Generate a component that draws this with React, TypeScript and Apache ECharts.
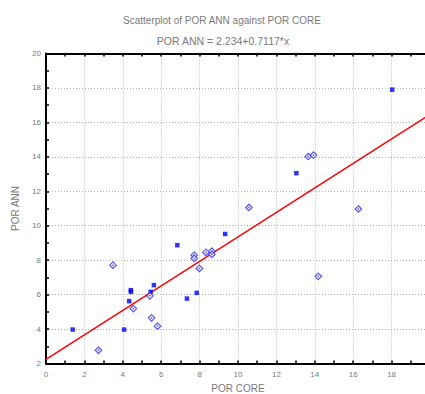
import React, { useEffect, useRef } from "react";
import * as echarts from "echarts";

const titleText = "Scatterplot of POR ANN against POR CORE";
const equationText = "POR ANN = 2.234+0.7117*x";
const xName = "POR CORE";
const yName = "POR ANN";

// filled-square observations
const filledX = [1.39, 4.07, 4.42, 4.42, 4.33, 5.62, 5.45, 6.84, 7.34, 7.85, 9.33, 13.04, 18.03];
const filledY = [3.97, 3.97, 6.26, 6.16, 5.62, 6.55, 6.16, 8.87, 5.77, 6.1, 9.52, 13.05, 17.9];

// hollow-diamond observations
const hollowX = [2.73, 3.49, 4.55, 5.41, 5.5, 5.81, 7.72, 7.72, 7.99, 8.33, 8.64, 8.64, 10.57, 13.66, 13.93, 14.18, 16.27];
const hollowY = [2.77, 7.71, 5.19, 5.93, 4.65, 4.17, 8.29, 8.1, 7.52, 8.45, 8.52, 8.33, 11.06, 14.02, 14.1, 7.06, 10.97];

// fitted line endpoints (POR ANN = 2.234 + 0.7117 * x)
const fitX = [0, 20];
const fitY = [2.234, 16.468];

const TEXT_COLOR = "#7a7a7a";
const FONT = "Liberation Sans";

export default function App() {
  const ref = useRef<HTMLDivElement>(null);
  useEffect(() => {
    if (!ref.current) return;
    const chart = echarts.init(ref.current, null, { renderer: "svg" });
    const filled = filledX.map((x, i) => [x, filledY[i]]);
    const hollow = hollowX.map((x, i) => [x, hollowY[i]]);
    const fit = fitX.map((x, i) => [x, fitY[i]]);
    const axisCommon = {
      axisLine: { show: true, onZero: false, lineStyle: { color: "#000", width: 2 } },
      axisTick: { show: true, inside: true, length: 3, lineStyle: { color: "#000", width: 1.5 } },
      minorTick: { show: true, splitNumber: 2, length: 3, lineStyle: { color: "#000", width: 1.5 } },
      splitLine: { show: true, lineStyle: { color: "#b4b4b4", width: 1, type: [1, 2] } },
    };
    chart.setOption({
      animation: false,
      backgroundColor: "#fff",
      graphic: [
        {
          type: "text",
          x: 222,
          y: 20,
          style: { text: titleText, fill: TEXT_COLOR, font: `10px ${FONT}`, textAlign: "center", textVerticalAlign: "middle" },
        },
        {
          type: "text",
          x: 223,
          y: 41,
          style: { text: equationText, fill: TEXT_COLOR, font: `10.5px ${FONT}`, textAlign: "center", textVerticalAlign: "middle" },
        },
      ],
      grid: { left: 46, right: -5, top: 53.5, bottom: 30.5, outerBoundsMode: "none", containLabel: false },
      xAxis: [
        {
          type: "value",
          min: 0,
          max: 20,
          interval: 2,
          name: xName,
          nameLocation: "middle",
          nameGap: 18,
          nameTextStyle: { color: TEXT_COLOR, fontSize: 10, fontFamily: FONT },
          axisLabel: { color: TEXT_COLOR, fontSize: 8, fontFamily: FONT, margin: 7, showMaxLabel: false },
          ...axisCommon,
        },
        {
          type: "value",
          position: "top",
          min: 0,
          max: 20,
          interval: 2,
          axisLabel: { show: false },
          axisLine: { show: true, lineStyle: { color: "#000", width: 2 } },
          axisTick: { show: true, inside: true, length: 3, lineStyle: { color: "#000", width: 1.5 } },
          minorTick: { show: true, splitNumber: 2, length: 3, lineStyle: { color: "#000", width: 1.5 } },
          splitLine: { show: false },
        },
      ],
      yAxis: {
        type: "value",
        min: 2,
        max: 20,
        interval: 2,
        name: yName,
        nameLocation: "middle",
        nameGap: 26,
        nameTextStyle: { color: TEXT_COLOR, fontSize: 10, fontFamily: FONT },
        axisLabel: { color: TEXT_COLOR, fontSize: 8, fontFamily: FONT, margin: 5 },
        ...axisCommon,
      },
      series: [
        {
          type: "line",
          data: fit,
          symbol: "none",
          lineStyle: { color: "#ff0000", width: 1.5 },
          z: 3,
        },
        {
          type: "scatter",
          data: filled,
          symbol: "rect",
          symbolSize: 4.5,
          itemStyle: { color: "#0000ff" },
          z: 4,
        },
        {
          type: "scatter",
          data: hollow,
          symbol: "diamond",
          symbolSize: 6.5,
          itemStyle: { color: "#ffffff", borderColor: "#2a2aff", borderWidth: 1.2 },
          z: 4,
        },
        {
          type: "scatter",
          data: hollow,
          symbol: "rect",
          symbolSize: 1.5,
          itemStyle: { color: "#2a2aff" },
          z: 5,
        },
      ],
    });
    return () => chart.dispose();
  }, []);
  return <div ref={ref} style={{ position: "fixed", left: 0, top: 0, width: 425, height: 394 }} />;
}
